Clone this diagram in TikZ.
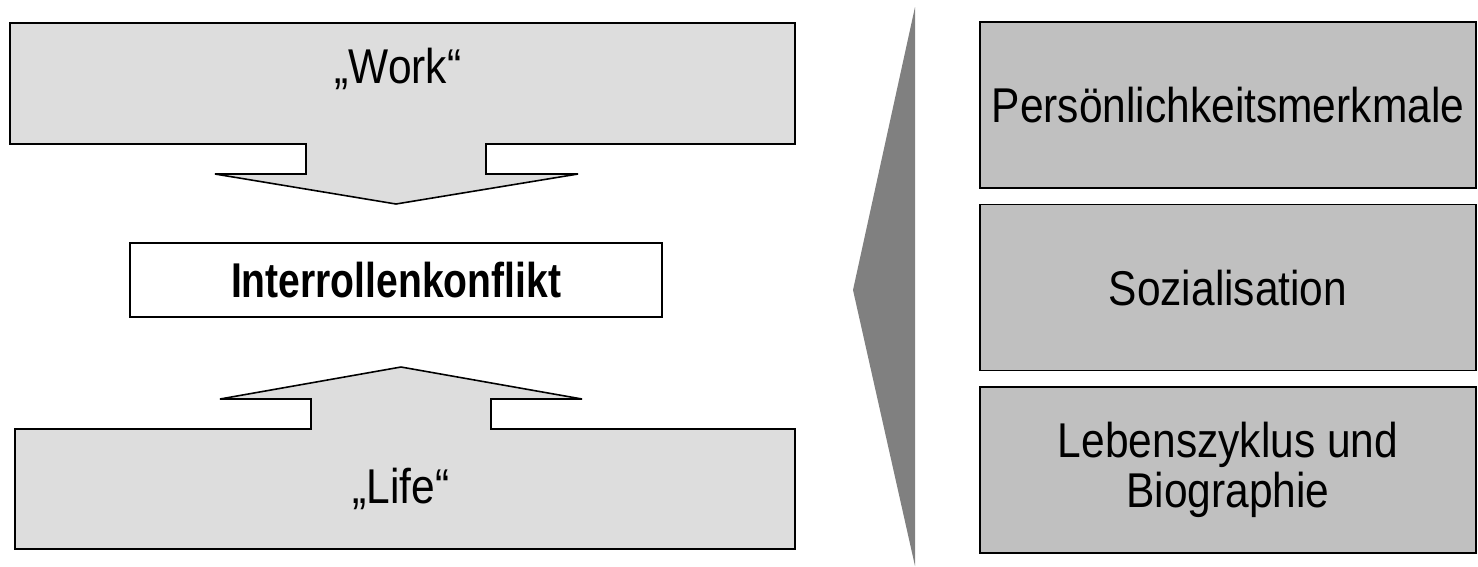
\documentclass[tikz,border=0pt]{standalone}
\usepackage{fontspec}
\setmainfont{Liberation Sans}
\usepackage{graphicx}
\usepackage{tikz}
\usetikzlibrary{positioning}
\definecolor{hellgrau}{HTML}{DDDDDD}
\definecolor{mittelgrau}{HTML}{C0C0C0}
\definecolor{keilgrau}{HTML}{808080}
\newcommand{\schmal}[1]{\scalebox{0.87}[1]{#1}}
\newcommand{\fettschmal}[1]{\scalebox{0.8}[1]{\bfseries #1}}

\begin{document}
\begin{tikzpicture}[x=0.02cm, y=-0.02cm,
		rolle/.style={draw=black, line width=0.9pt, fill=hellgrau, line join=miter},
		faktor/.style={draw=black, line width=0.9pt, fill=mittelgrau, minimum width=9.92cm, minimum height=3.32cm, align=center, font=\fontsize{27.8}{28.5}\selectfont},
		rollentext/.style={anchor=base, font=\fontsize{27.8}{28.5}\selectfont}]
			%%%%% START %%%%%
			\useasboundingbox (0, 0) rectangle (1478, 566);
			
			% Work
			\draw[rolle] (10, 23) -- (795, 23) -- (795, 144) -- (486, 144) -- (486, 174) -- (578, 174) -- (396, 204) -- (215, 174) -- (306, 174) -- (306, 144) -- (10, 144) -- cycle;
			\node[rollentext] (work) at (398, 83) {\schmal{„Work“}};
			
			% Life
			\draw[rolle] (15, 549) -- (795, 549) -- (795, 429) -- (491, 429) -- (491, 399) -- (582, 399) -- (401, 367) -- (220, 399) -- (311, 399) -- (311, 429) -- (15, 429) -- cycle;
			\node[rollentext] (life) at (401, 503) {\schmal{„Life“}};
			
			% Konflikt
			\node[draw=black, line width=0.9pt, fill=white, minimum width=10.64cm, minimum height=1.48cm, font=\fontsize{27.8}{28.5}\selectfont] (konflikt) at (396, 280) {\fettschmal{Interrollenkonflikt}};
			
			% Keil
			\fill[keilgrau] (915, 7) -- (853, 290) -- (915, 566) -- cycle;
			
			% Faktoren
			\node[faktor] (merkmale) at (1228, 105) {\schmal{Persönlichkeitsmerkmale}};
			\node[faktor, below=0.3cm of merkmale] (sozial) {\schmal{Sozialisation}};
			\node[faktor, below=0.3cm of sozial] (zyklus) {\schmal{Lebenszyklus und}\\\schmal{Biographie}};
			
			%%%%% END %%%%%
		\end{tikzpicture}
\end{document}
